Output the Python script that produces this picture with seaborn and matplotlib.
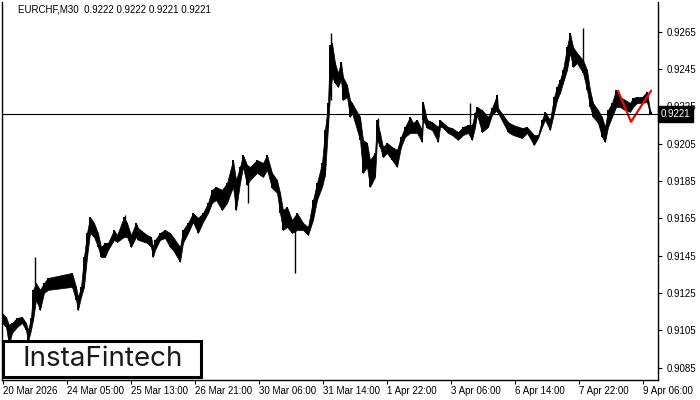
import numpy as np
import pandas as pd
import seaborn as sns
import matplotlib.pyplot as plt
from matplotlib.patches import Rectangle
from matplotlib.transforms import blended_transform_factory

# EURCHF M30, highs / lows (bar index from the left edge)
bars = [0, 4, 7, 10, 15, 20, 24, 26, 29, 31, 34, 38, 42, 46, 70, 74, 76, 79, 82, 85,
        88, 92, 96, 99, 103, 106, 112, 115, 122, 125, 129, 134, 136, 145, 149, 151, 153, 158, 163, 168,
        171, 178, 181, 186, 191, 196, 201, 206, 210, 214, 220, 225, 231, 234, 238, 241, 245, 248, 255, 261,
        265, 270, 275, 278, 281, 285, 290, 295, 301, 306, 311, 315, 320, 323, 326, 328, 330, 333, 336, 339,
        341, 345, 348, 350, 358, 361, 365, 368, 373, 375, 378, 381, 385, 390, 395, 399, 403, 408, 411, 415,
        420, 421, 425, 430, 436, 438, 440, 446, 450, 456, 461, 466, 470, 473, 475, 480, 486, 490, 495, 496,
        506, 511, 520, 525, 532, 536, 540, 543, 548, 552, 555, 558, 561, 565, 568, 571, 575, 581, 585, 588,
        591, 596, 600, 603, 606, 610, 614, 618, 623, 628, 631, 635, 640, 645, 648, 649]
highs = [0.91143, 0.91122, 0.91079, 0.91090, 0.91117, 0.91122, 0.91090, 0.91052, 0.91117, 0.91267,
         0.91304, 0.91267, 0.91304, 0.91331, 0.91358, 0.91283, 0.91229, 0.91283, 0.91443, 0.91572,
         0.91658, 0.91626, 0.91572, 0.91497, 0.91519, 0.91519, 0.91588, 0.91561, 0.91658, 0.91626,
         0.91561, 0.91626, 0.91599, 0.91561, 0.91551, 0.91497, 0.91535, 0.91572, 0.91588, 0.91572,
         0.91551, 0.91497, 0.91588, 0.91626, 0.91679, 0.91653, 0.91679, 0.91733, 0.91803, 0.91819,
         0.91803, 0.91840, 0.91963, 0.91856, 0.91926, 0.91990, 0.91937, 0.91926, 0.91963, 0.91947,
         0.91990, 0.91894, 0.91856, 0.91787, 0.91695, 0.91711, 0.91642, 0.91679, 0.91626, 0.91604,
         0.91749, 0.91840, 0.91947, 0.92124, 0.92269, 0.92580, 0.92591, 0.92483, 0.92430, 0.92489,
         0.92408, 0.92365, 0.92285, 0.92269, 0.92194, 0.92071, 0.92055, 0.91963, 0.92001, 0.92178,
         0.92108, 0.92033, 0.92055, 0.92033, 0.92017, 0.92087, 0.92140, 0.92194, 0.92162, 0.92178,
         0.92124, 0.92274, 0.92178, 0.92167, 0.92140, 0.92178, 0.92167, 0.92140, 0.92135, 0.92113,
         0.92140, 0.92151, 0.92151, 0.92215, 0.92247, 0.92231, 0.92194, 0.92242, 0.92312, 0.92242,
         0.92167, 0.92151, 0.92135, 0.92140, 0.92097, 0.92097, 0.92178, 0.92221, 0.92178, 0.92301,
         0.92355, 0.92392, 0.92446, 0.92569, 0.92644, 0.92569, 0.92537, 0.92499, 0.92446, 0.92339,
         0.92269, 0.92231, 0.92194, 0.92140, 0.92231, 0.92269, 0.92339, 0.92301, 0.92285, 0.92269,
         0.92296, 0.92301, 0.92301, 0.92328, 0.92231, 0.92221]
lows = [0.91090, 0.91068, 0.90972, 0.91036, 0.91068, 0.91090, 0.91052, 0.90988, 0.91052, 0.91106,
        0.91213, 0.91159, 0.91251, 0.91267, 0.91283, 0.91213, 0.91159, 0.91229, 0.91283, 0.91443,
        0.91572, 0.91551, 0.91497, 0.91443, 0.91443, 0.91481, 0.91535, 0.91524, 0.91551, 0.91551,
        0.91497, 0.91551, 0.91535, 0.91519, 0.91497, 0.91443, 0.91481, 0.91535, 0.91545, 0.91497,
        0.91481, 0.91417, 0.91519, 0.91572, 0.91631, 0.91572, 0.91631, 0.91679, 0.91733, 0.91749,
        0.91695, 0.91733, 0.91819, 0.91695, 0.91840, 0.91926, 0.91829, 0.91856, 0.91894, 0.91872,
        0.91910, 0.91813, 0.91787, 0.91679, 0.91588, 0.91604, 0.91572, 0.91588, 0.91588, 0.91561,
        0.91642, 0.91749, 0.91819, 0.91883, 0.92140, 0.92312, 0.92408, 0.92376, 0.92355, 0.92392,
        0.92285, 0.92301, 0.92194, 0.92215, 0.92071, 0.91894, 0.91926, 0.91819, 0.91872, 0.92071,
        0.92033, 0.91979, 0.92001, 0.91963, 0.91926, 0.92033, 0.92087, 0.92108, 0.92108, 0.92108,
        0.92060, 0.92178, 0.92135, 0.92124, 0.92060, 0.92140, 0.92140, 0.92108, 0.92097, 0.92071,
        0.92097, 0.92108, 0.92071, 0.92140, 0.92205, 0.92113, 0.92140, 0.92205, 0.92231, 0.92215,
        0.92113, 0.92097, 0.92081, 0.92108, 0.92044, 0.92081, 0.92140, 0.92178, 0.92124, 0.92215,
        0.92285, 0.92323, 0.92376, 0.92446, 0.92537, 0.92462, 0.92483, 0.92430, 0.92339, 0.92247,
        0.92194, 0.92162, 0.92087, 0.92060, 0.92140, 0.92194, 0.92247, 0.92247, 0.92231, 0.92221,
        0.92247, 0.92269, 0.92269, 0.92274, 0.92210, 0.92210]

# single-bar spikes
spike_bars = [33, 123, 246, 293, 329, 376, 468, 581]
spike_highs = [0.91443, 0.91669, 0.91910, 0.91642, 0.92644, 0.92189, 0.92269, 0.92671]
spike_lows = [0.91293, 0.91561, 0.91733, 0.91358, 0.92285, 0.92071, 0.92124, 0.92473]

# pattern drawn in red
pattern_bars = [616, 629, 649]
pattern_prices = [0.92334, 0.92168, 0.92334]

last_price = 0.9221
title = "EURCHF,M30  0.9222 0.9222 0.9221 0.9221"

tick_bars = [1, 65, 129, 193, 257, 321, 385, 449, 513, 577, 641]
tick_labels = ["20 Mar 2026", "24 Mar 05:00", "25 Mar 13:00", "26 Mar 21:00", "30 Mar 06:00",
               "31 Mar 14:00", "1 Apr 22:00", "3 Apr 06:00", "6 Apr 14:00", "7 Apr 22:00",
               "9 Apr 06:00"]
price_ticks = [0.9085, 0.9105, 0.9125, 0.9145, 0.9165, 0.9185, 0.9205, 0.9225, 0.9245, 0.9265]

sns.set_theme(style="white")
plt.rcParams['font.family'] = ['Liberation Sans', 'DejaVu Sans']

fig = plt.figure(figsize=(7, 4), dpi=100)
ax = fig.add_axes([2 / 700, 20 / 400, 656 / 700, 378 / 400])

ax.fill_between(bars, lows, highs, color="black", linewidth=0.5, edgecolor="black")
ax.vlines(bars, lows, highs, color="black", linewidth=1.4)
ax.vlines(spike_bars, spike_lows, spike_highs, color="black", linewidth=1.0)

pattern = pd.DataFrame({"bar": pattern_bars, "price": pattern_prices})
sns.lineplot(data=pattern, x="bar", y="price", color="#ff0000", linewidth=1.6, ax=ax)

ax.axhline(last_price, color="black", linewidth=0.8)

ax.set_xlim(0, 656)
ax.set_ylim(0.90784, 0.92810)
ax.set_xlabel("")
ax.set_ylabel("")

ax.set_xticks(tick_bars)
ax.set_xticklabels(tick_labels, ha="left", fontsize=7, color="black")
ax.yaxis.tick_right()
ax.set_yticks(price_ticks)
ax.set_yticklabels([f"{p:.4f}" for p in price_ticks], fontsize=7, color="black")
ax.tick_params(axis="x", direction="out", length=3, width=0.8, pad=1, color="black", bottom=True)
ax.tick_params(axis="y", direction="out", length=3, width=0.8, pad=3, color="black", right=True, left=False)

for side in ["left", "bottom", "right"]:
    ax.spines[side].set_visible(True)
    ax.spines[side].set_color("black")
    ax.spines[side].set_linewidth(1.0)
ax.spines["top"].set_visible(False)

# price tag on the right axis, covers part of the 0.9225 label as in MT4
tr = blended_transform_factory(ax.transAxes, ax.transData)
ax.text(1.004, last_price, f"{last_price:.4f}", transform=tr, ha="left", va="center",
        fontsize=7, color="white", zorder=20, clip_on=False,
        bbox=dict(boxstyle="square,pad=0.3", facecolor="black", edgecolor="black"))

fig.text(18 / 700, 1 - 10 / 400, title, fontsize=7, color="black", ha="left", va="center")

# logo box
ax.add_patch(Rectangle((1 / 656, 3 / 378), 198 / 656, 36 / 378, transform=ax.transAxes,
                       facecolor="white", edgecolor="black", linewidth=2.2, zorder=15, clip_on=False))
ax.text(101 / 656, 21 / 378, "InstaFintech", transform=ax.transAxes, ha="center", va="center",
        fontsize=20, family=["Inter", "DejaVu Sans"], color="#1a1a1a", zorder=16)

fig.savefig("out.png", dpi=100)
